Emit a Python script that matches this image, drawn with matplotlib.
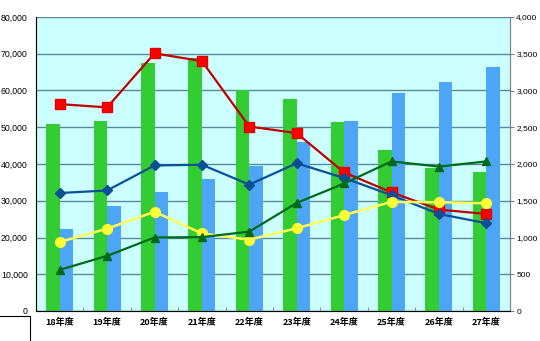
import matplotlib
matplotlib.use('Agg')
import matplotlib.pyplot as plt
import matplotlib.ticker as mticker
import numpy as np

plt.rcParams['font.family'] = ['Noto Sans CJK JP', 'DejaVu Sans']

# 年度ラベル
years = ['18年度', '19年度', '20年度', '21年度', '22年度',
         '23年度', '24年度', '25年度', '26年度', '27年度']

# 棒グラフ（左軸）
green_bars = [51000, 51700, 67400, 68800, 60100, 57800, 51500, 43900, 39000, 37700]
blue_bars = [22300, 28500, 32500, 35900, 39500, 45900, 51700, 59300, 62300, 66500]

# 折れ線（右軸）
red_line = [2815, 2770, 3505, 3400, 2510, 2420, 1885, 1615, 1380, 1320]
navy_line = [1605, 1640, 1980, 1990, 1720, 2010, 1810, 1575, 1320, 1195]
yellow_line = [940, 1120, 1350, 1055, 970, 1125, 1305, 1485, 1480, 1465]
dgreen_line = [560, 750, 1000, 1005, 1080, 1470, 1735, 2035, 1965, 2035]

fig = plt.figure(figsize=(5.4, 3.41), dpi=100)
ax = fig.add_axes([36 / 540, 1 - 311 / 341, 474 / 540, 294 / 341])
ax.set_facecolor('#ccffff')

x = np.arange(len(years))
w = 0.283
ax.bar(x - w / 2, green_bars, width=w, color='#33cc33', zorder=2)
ax.bar(x + w / 2, blue_bars, width=w, color='#4da6f5', zorder=2)

ax.set_xlim(-0.5, len(years) - 0.5)
ax.set_ylim(0, 80000)
ax.yaxis.set_major_locator(mticker.MultipleLocator(10000))
ax.yaxis.set_major_formatter(mticker.FuncFormatter(lambda v, p: f'{int(v):,}'))
ax.grid(axis='y', color='#5a8a9a', linewidth=1.0, zorder=1)
ax.set_axisbelow(True)

ax.set_xticks(x)
ax.set_xticklabels(years)
ax.set_xticks(np.arange(-0.5, len(years), 1), minor=True)
ax.tick_params(axis='x', which='major', length=0, labelsize=6.5, pad=5)
ax.tick_params(axis='x', which='minor', length=3, direction='in', color='#808080')
ax.tick_params(axis='y', length=0, labelsize=6.3, pad=6)
for lab in ax.get_xticklabels():
    lab.set_fontweight('bold')
for lab in ax.get_yticklabels():
    lab.set_family('Liberation Sans')

ax.spines['top'].set_visible(False)
for s in ['left', 'right', 'bottom']:
    ax.spines[s].set_color('#808080')

ax2 = ax.twinx()
ax2.set_ylim(0, 4000)
ax2.yaxis.set_major_locator(mticker.MultipleLocator(500))
ax2.yaxis.set_major_formatter(mticker.FuncFormatter(lambda v, p: f'{int(v):,}'))
ax2.tick_params(axis='y', length=3, labelsize=6.0, pad=1.5, color='#808080')
for lab in ax2.get_yticklabels():
    lab.set_family('Liberation Sans')
ax2.spines['top'].set_visible(False)
ax2.spines['right'].set_color('#808080')

ax2.plot(x, red_line, color='#c00000', linewidth=1.6, marker='s', markersize=7,
         markerfacecolor='#ff0000', markeredgecolor='#e00000', zorder=4)
ax2.plot(x, navy_line, color='#0b4f96', linewidth=1.6, marker='D', markersize=5,
         markerfacecolor='#0b4f96', markeredgecolor='#0b4f96', zorder=4)
ax2.plot(x, yellow_line, color='#ffff55', linewidth=1.8, marker='o', markersize=7,
         markerfacecolor='#ffff33', markeredgecolor='#ffff33', zorder=4)
ax2.plot(x, dgreen_line, color='#006a1a', linewidth=1.6, marker='^', markersize=6,
         markerfacecolor='#006a1a', markeredgecolor='#006a1a', zorder=4)

# 左下の枠線の切れ端
fig.add_artist(plt.Line2D([0, 30 / 540], [1 - 316 / 341, 1 - 316 / 341],
                          color='black', linewidth=0.8))
fig.add_artist(plt.Line2D([30 / 540, 30 / 540], [1 - 316 / 341, 0],
                          color='black', linewidth=0.8))

fig.savefig('out.png', dpi=100)
